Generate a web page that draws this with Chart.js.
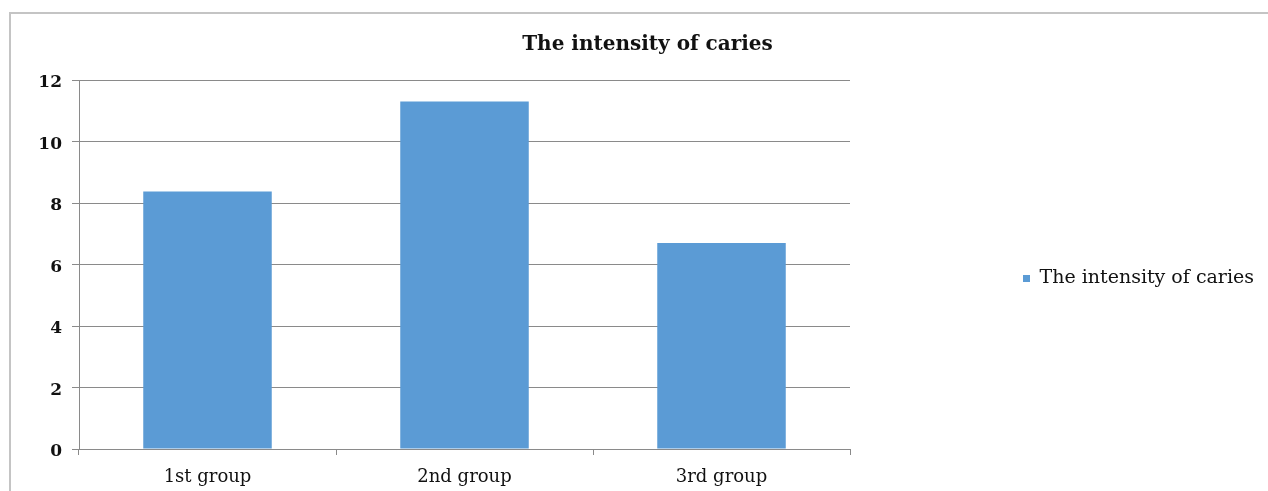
<!DOCTYPE html>
<html>
<head>
<meta charset="utf-8">
<script src="https://cdn.jsdelivr.net/npm/chart.js@4"></script>
<style>
  html, body { margin: 0; padding: 0; background: #fff; overflow: hidden; }
  #frame {
    position: absolute; left: 9px; top: 12px;
    width: 1300px; height: 520px;
    border-top: 2px solid #c4c4c4; border-left: 2px solid #c4c4c4;
  }
  #wrap { position: absolute; left: 0; top: 0; width: 1268px; height: 491px; }
</style>
</head>
<body>
<div id="frame"></div>
<div id="wrap"><canvas id="barChart" width="1268" height="491"></canvas></div>
<script>
// chart data
const categories = ["1st group", "2nd group", "3rd group"];
const intensity = [8.37, 11.3, 6.7];
const seriesName = "The intensity of caries";
const yTicks = [0, 2, 4, 6, 8, 10, 12];

const serif = "'DejaVu Serif', 'Liberation Serif', serif";
const gridColor = "#8a8a8a";

document.addEventListener('DOMContentLoaded', function () {
    const ctx = document.getElementById("barChart").getContext("2d");

    new Chart(ctx, {
        type: "bar",
        data: {
            labels: categories,
            datasets: [{
                label: seriesName,
                data: intensity,
                backgroundColor: "#5b9bd5",
                borderWidth: 0,
                barPercentage: 0.5,
                categoryPercentage: 1.0
            }]
        },
        options: {
            responsive: false,
            animation: false,
            layout: {
                // left padding is wide so the title sits a little right of centre
                padding: { left: 31, right: 4, top: 0, bottom: 0 }
            },
            plugins: {
                title: {
                    display: true,
                    text: seriesName,
                    color: "#111",
                    font: { family: serif, size: 20, weight: "bold", lineHeight: 1.2 },
                    padding: { top: 33, bottom: 23 }
                },
                legend: {
                    position: "right",
                    maxWidth: 600,
                    // empty legend title only used to push the item down a bit
                    title: {
                        display: true,
                        text: "",
                        font: { size: 10, lineHeight: 1.2 },
                        padding: { top: 27, bottom: 27 }
                    },
                    labels: {
                        boxWidth: 7,
                        boxHeight: 7,
                        padding: 173,
                        color: "#111",
                        font: { family: serif, size: 19 }
                    }
                },
                tooltip: { enabled: false }
            },
            scales: {
                x: {
                    grid: {
                        display: true,
                        offset: true,
                        drawOnChartArea: false,
                        drawTicks: true,
                        tickLength: 6,
                        color: gridColor
                    },
                    border: { display: true, color: gridColor, width: 1 },
                    ticks: {
                        color: "#111",
                        padding: 12,
                        font: { family: serif, size: 18 }
                    },
                    afterFit: function (scale) { scale.height = 42; }
                },
                y: {
                    min: 0,
                    max: 12,
                    afterBuildTicks: function (scale) {
                        scale.ticks = yTicks.map(v => ({ value: v }));
                    },
                    grid: {
                        color: gridColor,
                        tickLength: 7
                    },
                    border: { display: true, color: gridColor, width: 1 },
                    ticks: {
                        color: "#111",
                        padding: 10,
                        labelOffset: 3,
                        font: { family: serif, size: 17, weight: "bold" }
                    },
                    afterFit: function (scale) { scale.width = 48; }
                }
            }
        }
    });
});
</script>
</body>
</html>
